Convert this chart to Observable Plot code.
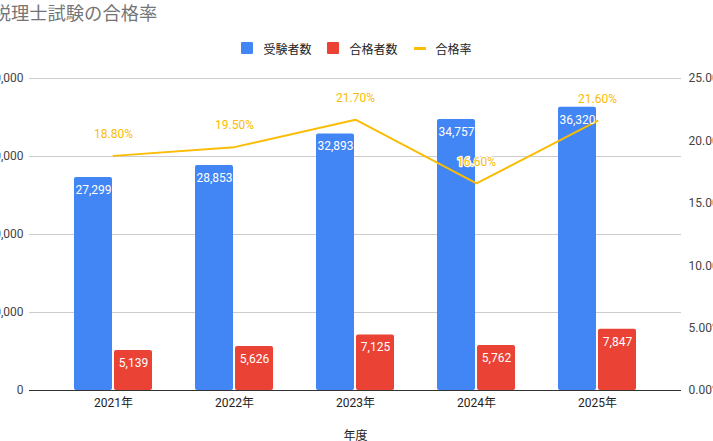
<!DOCTYPE html>
<html>
<head>
<meta charset="utf-8">
<script src="https://cdn.jsdelivr.net/npm/d3@7"></script>
<script src="https://cdn.jsdelivr.net/npm/@observablehq/plot@0.6"></script>
<style>
  html, body { margin: 0; padding: 0; background: #fff; overflow: hidden; }
  body { width: 713px; height: 441px; position: relative; font-family: Roboto, "Noto Sans CJK JP", sans-serif; }
  #title { position: absolute; left: -7.3px; top: 5px; font-size: 18.3px; line-height: 18px; color: #757575; white-space: nowrap; }
  #legend { position: absolute; left: 0; width: 713px; top: 40px; height: 16px; display: flex; justify-content: center; align-items: center; font-size: 12px; color: #222; }
  #legend .item { display: flex; align-items: center; margin: 0 8px; }
  #legend .sw { width: 12px; height: 12px; margin-right: 10px; border-radius: 1px; }
  #legend .ln { width: 12px; height: 3px; margin-right: 10px; }
  #chart { position: absolute; left: 0; top: 60px; }
  #chart svg { overflow: hidden; }
</style>
</head>
<body>
<div id="title">税理士試験の合格率</div>
<div id="legend"></div>
<div id="chart"></div>
<script>
const years = ["2021年", "2022年", "2023年", "2024年", "2025年"];
const examinees = [27299, 28853, 32893, 34757, 36320];
const passers = [5139, 5626, 7125, 5762, 7847];
const passRate = [18.8, 19.5, 21.7, 16.6, 21.6];
const leftTicks = [0, 10000, 20000, 30000, 40000];
const rightTicks = [0, 5, 10, 15, 20, 25];
const seriesNames = ["受験者数", "合格者数", "合格率"];
const colors = ["#4285f4", "#ea4335", "#fbbc04"];

const leftMax = 40000, rightMax = 25;
const k = leftMax / rightMax;

const rows = years.map((y, i) => ({year: y, examinees: examinees[i], passers: passers[i], rate: passRate[i], rateY: passRate[i] * k}));

// Legend
const legend = document.getElementById("legend");
seriesNames.forEach((n, i) => {
  const it = document.createElement("div");
  it.className = "item";
  const sw = document.createElement("div");
  sw.className = i < 2 ? "sw" : "ln";
  sw.style.background = colors[i];
  const t = document.createElement("span");
  t.textContent = n;
  it.appendChild(sw); it.appendChild(t);
  legend.appendChild(it);
});

const fmt = d3.format(",");
const font = "Roboto, 'Noto Sans CJK JP', sans-serif";

const chart = Plot.plot({
  width: 713,
  height: 381,
  marginTop: 18,
  marginBottom: 51,
  marginLeft: 29,
  marginRight: 32,
  style: {fontFamily: font, fontSize: "12px", background: "#fff", overflow: "hidden"},
  x: {type: "band", domain: years, paddingInner: 0.3593, paddingOuter: 0.357, align: 0.5},
  y: {domain: [0, leftMax]},
  marks: [
    Plot.gridY(leftTicks, {stroke: "#cccccc", strokeOpacity: 1}),
    Plot.axisY(leftTicks, {anchor: "left", tickSize: 0, tickPadding: 6, tickFormat: d => fmt(d), label: null, fill: "#444", fontSize: 12}),
    Plot.axisY(rightTicks.map(d => d * k), {anchor: "right", tickSize: 0, tickPadding: 7, tickFormat: d => (d / k).toFixed(2) + "%", label: null, fill: "#444", fontSize: 12}),
    Plot.axisX({anchor: "bottom", tickSize: 0, tickPadding: 8, label: "年度", labelAnchor: "center", labelArrow: "none", labelOffset: 49, fill: "#222", fontSize: 12, fontWeight: "normal"}),
    Plot.barY(rows, {x: "year", y: "examinees", fill: colors[0], insetRight: 40, rx: 2}),
    Plot.barY(rows, {x: "year", y: "passers", fill: colors[1], insetLeft: 40, rx: 2}),
    Plot.ruleY([0], {stroke: "#333", strokeWidth: 1}),
    Plot.line(rows, {x: "year", y: "rateY", stroke: colors[2], strokeWidth: 2}),
    Plot.text(rows, {x: "year", y: "examinees", text: d => fmt(d.examinees), dx: -20, dy: 12.5, fill: "#fff", fontSize: 12}),
    Plot.text(rows, {x: "year", y: "passers", text: d => fmt(d.passers), dx: 20, dy: 12.5, fill: "#fff", fontSize: 12}),
    Plot.text(rows, {x: "year", y: "rateY", text: d => d.rate.toFixed(2) + "%", dy: -21.5, fill: colors[2], stroke: "#fff", strokeWidth: 2.5, fontSize: 12})
  ]
});
document.getElementById("chart").appendChild(chart);
</script>
</body>
</html>
